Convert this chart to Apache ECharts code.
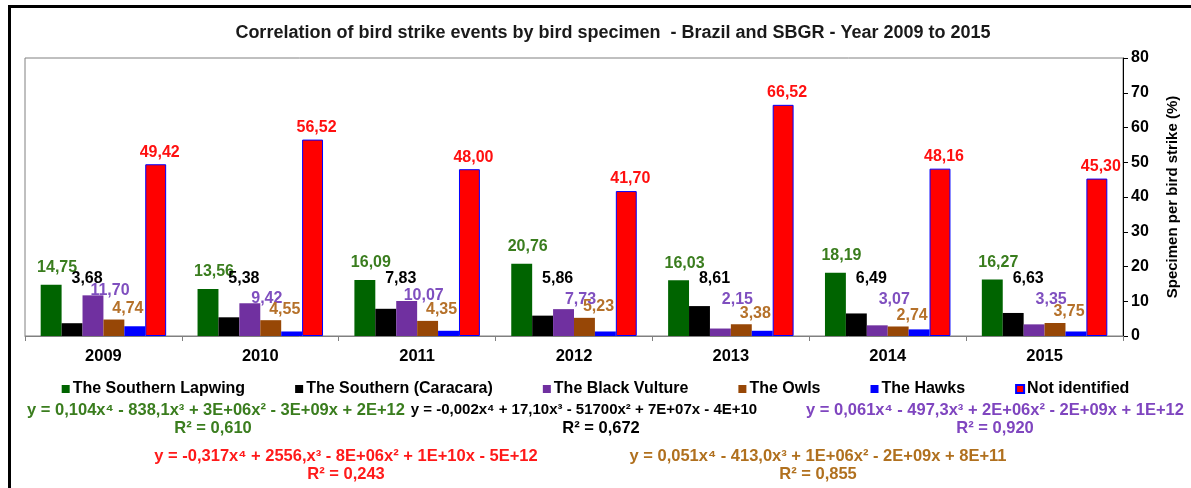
<!DOCTYPE html>
<html>
<head>
<meta charset="utf-8">
<script src="https://cdn.jsdelivr.net/npm/echarts@6/dist/echarts.min.js"></script>
<style>
html,body{margin:0;padding:0;background:#fff;}
#chart{width:1191px;height:488px;}
</style>
</head>
<body>
<div id="chart"></div>
<script>
// ---- Data ----
var years = ['2009', '2010', '2011', '2012', '2013', '2014', '2015'];
var lapwing = [14.75, 13.56, 16.09, 20.76, 16.03, 18.19, 16.27];
var caracara = [3.68, 5.38, 7.83, 5.86, 8.61, 6.49, 6.63];
var vulture = [11.70, 9.42, 10.07, 7.73, 2.15, 3.07, 3.35];
var owls = [4.74, 4.55, 4.35, 5.23, 3.38, 2.74, 3.75];
var hawks = [2.8, 1.3, 1.5, 1.3, 1.5, 1.9, 1.3];
var notIdentified = [49.42, 56.52, 48.00, 41.70, 66.52, 48.16, 45.30];
var seriesNames = ['The Southern Lapwing', 'The Southern (Caracara)', 'The Black Vulture', 'The Owls', 'The Hawks', 'Not identified'];
var yTicks = [0, 10, 20, 30, 40, 50, 60, 70, 80];
var titleText = 'Correlation of bird strike events by bird specimen  - Brazil and SBGR - Year 2009 to 2015';
var axisName = 'Specimen per bird strike (%)';
var trendEquations = [
  'y = 0,104x\u2074 - 838,1x\u00b3 + 3E+06x\u00b2 - 3E+09x + 2E+12',
  'y = -0,002x\u2074 + 17,10x\u00b3 - 51700x\u00b2 + 7E+07x - 4E+10',
  'y = 0,061x\u2074 - 497,3x\u00b3 + 2E+06x\u00b2 - 2E+09x + 1E+12',
  'y = -0,317x\u2074 + 2556,x\u00b3 - 8E+06x\u00b2 + 1E+10x - 5E+12',
  'y = 0,051x\u2074 - 413,0x\u00b3 + 1E+06x\u00b2 - 2E+09x + 8E+11'
];
var trendR2 = ['R\u00b2 = 0,610', 'R\u00b2 = 0,672', 'R\u00b2 = 0,920', 'R\u00b2 = 0,243', 'R\u00b2 = 0,855'];

// ---- Styles ----
var FONT = 'Liberation Sans, Arial, sans-serif';
var barColors = ['#006400', '#000000', '#7030A0', '#974706', '#0000FF', '#FF0000'];
var labelColors = ['#3A7D1E', '#000000', '#7F4FBF', '#B5712A', '#0000FF', '#FF1010'];
// label placement style: horizontal nudge, gap above bar top, lowest allowed pixel row
var labelDx = [6, 15, 17, 14, 0, 4];
var labelGap = [17, 24, 5, 11, 0, 12];
var labelFloor = [Infinity, 279, 300, Infinity, Infinity, Infinity];
var eqColors = ['#3A7D1E', '#000000', '#7F45BF', '#FF1A1A', '#B0701E'];
var eqFont = [16.5, 15, 16.5, 16.5, 16.5];
var eqPos = [[216, 410, 213, 428], [584, 410, 601, 428], [995, 410, 995, 428], [346, 456, 346, 474], [818, 456, 818, 474]];

function fmt(v) { return v.toFixed(2).replace('.', ','); }

var allData = [lapwing, caracara, vulture, owls, hawks, notIdentified];
var series = allData.map(function (d, i) {
  return {
    name: seriesNames[i],
    type: 'bar',
    data: d,
    barGap: '0%',
    barCategoryGap: '20%',
    itemStyle: i === 5 ? { color: barColors[i], borderColor: '#0000FF', borderWidth: 1 } : { color: barColors[i] },
    label: {
      show: i !== 4,
      position: 'top',
      formatter: function (p) { return fmt(p.value); },
      color: labelColors[i],
      fontFamily: FONT,
      fontWeight: 'bold',
      fontSize: 16
    },
    labelLayout: function (p) {
      var cx = p.rect.x + p.rect.width / 2 + labelDx[i];
      var cy = Math.min(p.rect.y - labelGap[i], labelFloor[i]);
      return { x: cx, y: cy, align: 'center', verticalAlign: 'middle' };
    }
  };
});

var graphics = [
  { type: 'line', shape: { x1: 9, y1: 6.5, x2: 1191, y2: 6.5 }, style: { stroke: '#000', lineWidth: 3 } },
  { type: 'line', shape: { x1: 9.5, y1: 5, x2: 9.5, y2: 488 }, style: { stroke: '#000', lineWidth: 3 } }
];
trendEquations.forEach(function (t, i) {
  graphics.push({ type: 'text', x: eqPos[i][0], y: eqPos[i][1], style: { text: t, fill: eqColors[i], font: 'bold ' + eqFont[i] + 'px ' + FONT, textAlign: 'center', textVerticalAlign: 'middle' } });
  graphics.push({ type: 'text', x: eqPos[i][2], y: eqPos[i][3], style: { text: trendR2[i], fill: eqColors[i], font: 'bold 16.5px ' + FONT, textAlign: 'center', textVerticalAlign: 'middle' } });
});

var chart = echarts.init(document.getElementById('chart'), null, { renderer: 'canvas' });
chart.setOption({
  animation: false,
  backgroundColor: '#fff',
  title: {
    text: titleText,
    left: 608,
    textAlign: 'center',
    top: 19,
    textStyle: { fontFamily: FONT, fontWeight: 'bold', fontSize: 18, color: '#1a1a1a' }
  },
  legend: {
    data: seriesNames,
    top: 376,
    left: 'center',
    icon: 'rect',
    itemWidth: 8,
    itemHeight: 8,
    itemGap: 50,
    textStyle: { fontFamily: FONT, fontWeight: 'bold', fontSize: 16, color: '#000', padding: [0, 0, 0, -2] }
  },
  grid: { left: 25, right: 68, top: 58, bottom: 152, show: true, borderColor: '#808080', borderWidth: 1 },
  xAxis: {
    type: 'category',
    data: years,
    axisLine: { lineStyle: { color: '#808080' } },
    axisTick: { show: true, length: 5, lineStyle: { color: '#808080' } },
    axisLabel: { margin: 12, fontFamily: FONT, fontWeight: 'bold', fontSize: 16.5, color: '#000' }
  },
  yAxis: {
    type: 'value',
    position: 'right',
    min: yTicks[0],
    max: yTicks[yTicks.length - 1],
    interval: yTicks[1] - yTicks[0],
    name: axisName,
    nameLocation: 'middle',
    nameRotate: 90,
    nameGap: 42,
    nameTextStyle: { fontFamily: FONT, fontWeight: 'bold', fontSize: 15, color: '#000' },
    axisLine: { show: true, lineStyle: { color: '#000' } },
    axisTick: { show: true, inside: false, length: 5, lineStyle: { color: '#000' } },
    splitLine: { show: false },
    axisLabel: { margin: 8, fontFamily: FONT, fontWeight: 'bold', fontSize: 16, color: '#000' }
  },
  series: series,
  graphic: graphics
});
</script>
</body>
</html>
